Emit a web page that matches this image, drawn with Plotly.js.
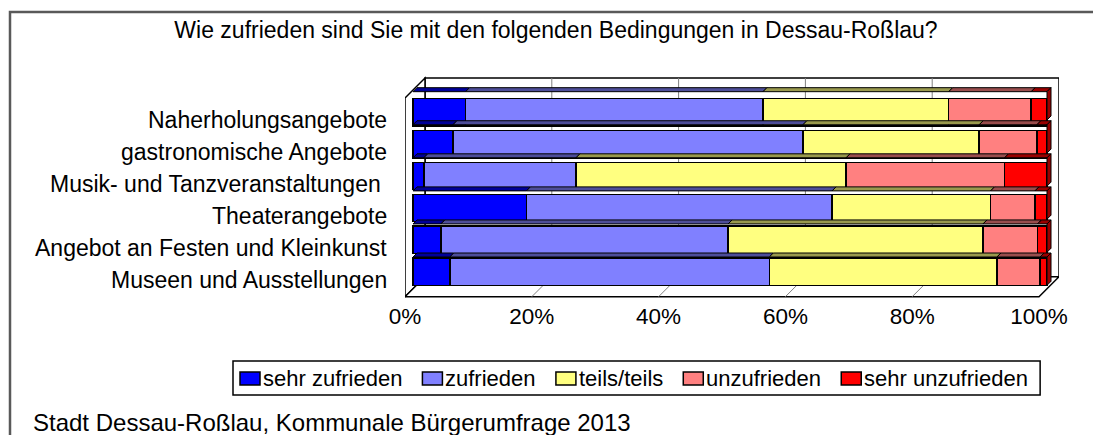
<!DOCTYPE html>
<html>
<head>
<meta charset="utf-8">
<script src="https://cdn.plot.ly/plotly-3.0.1.min.js"></script>
<style>
  html, body { margin: 0; padding: 0; background: #fff; }
  #chart { width: 1093px; height: 435px; }
</style>
</head>
<body>
<div id="chart"></div>
<script>
// Survey answers per leisure offer, shares in percent (top row first)
const categories = [
  'Naherholungsangebote',
  'gastronomische Angebote',
  'Musik- und Tanzveranstaltungen ',
  'Theaterangebote',
  'Angebot an Festen und Kleinkunst',
  'Museen und Ausstellungen'
];
const seriesNames = ['sehr zufrieden', 'zufrieden', 'teils/teils', 'unzufrieden', 'sehr unzufrieden'];
const sehrZufrieden   = [8.3, 6.3, 1.7, 17.9, 4.4, 5.8];
const zufrieden       = [46.9, 55.2, 24.0, 48.2, 45.3, 50.4];
const teilsTeils      = [29.3, 27.8, 42.6, 25.0, 40.2, 35.9];
const unzufrieden     = [13.0, 9.1, 25.0, 7.0, 8.6, 6.8];
const sehrUnzufrieden = [2.5, 1.6, 6.7, 1.9, 1.5, 1.1];
const tickValues = [0, 20, 40, 60, 80, 100];
const tickLabels = ['0%', '20%', '40%', '60%', '80%', '100%'];
const titleText = 'Wie zufrieden sind Sie mit den folgenden Bedingungen in Dessau-Roßlau?';
const sourceText = 'Stadt Dessau-Roßlau, Kommunale Bürgerumfrage 2013';

const seriesValues = [sehrZufrieden, zufrieden, teilsTeils, unzufrieden, sehrUnzufrieden];
const faceColors = ['#0000ff', '#8080ff', '#ffff80', '#ff8080', '#ff0000'];
const topColors  = ['#000099', '#4d4d99', '#99994d', '#994d4d', '#990000'];

// ---- layout geometry (pixels) ----
const W = 1093, H = 435;
const FONT = '"Liberation Sans", Arial, sans-serif';
const PX_PER_UNIT = 6.34;          // pixels per percent on the value axis
const FLOOR_LEFT = 405;            // front edge of the floor at 0 %
const FLOOR_FRONT_Y = 296.7;
const DEPTH = 20;                  // depth of the 3-D box (same in x and y)
const BAR_OFFSET = 8;              // bars sit this far behind the front edge
const BAR_THICK = 4;               // visible depth of each bar
const BACK_TOP = 78;
const LEFT_WALL_TOP = 98;
const BAND_TOP = 89.3, BAND_BOTTOM = 287.7;
const BARGAP = 0.144;

const py = p => 1 - p / H;
const ux = px => px / PX_PER_UNIT;
const frontX = v => v - ux(BAR_OFFSET);
const backX = v => v + ux(DEPTH - BAR_OFFSET);
const BACK_BOTTOM = FLOOR_FRONT_Y - DEPTH;

const xDomain = [FLOOR_LEFT / W, (FLOOR_LEFT + 100 * PX_PER_UNIT + DEPTH) / W];
const xRange = [-ux(BAR_OFFSET), 100 + ux(DEPTH - BAR_OFFSET)];

// ---- bar traces ----
const traces = seriesNames.map((name, k) => ({
  type: 'bar',
  orientation: 'h',
  name: name,
  y: categories,
  x: seriesValues[k],
  marker: { color: faceColors[k], line: { color: '#000000', width: 1.5 } },
  showlegend: false,
  hoverinfo: 'x+y+name'
}));

// ---- 3-D box: back wall, left wall, floor ----
const shapes = [];
const wallLine = { color: '#000000', width: 1.5 };
shapes.push({
  type: 'path', layer: 'below', xref: 'x', yref: 'paper',
  path: `M${backX(0)},${py(BACK_TOP)} L${backX(100)},${py(BACK_TOP)} L${backX(100)},${py(BACK_BOTTOM)} L${backX(0)},${py(BACK_BOTTOM)} Z`,
  fillcolor: '#ffffff', line: wallLine
});
shapes.push({
  type: 'path', layer: 'below', xref: 'x', yref: 'paper',
  path: `M${frontX(0)},${py(LEFT_WALL_TOP)} L${backX(0)},${py(BACK_TOP)} L${backX(0)},${py(BACK_BOTTOM)} L${frontX(0)},${py(FLOOR_FRONT_Y)} Z`,
  fillcolor: '#ffffff', line: wallLine
});
shapes.push({
  type: 'path', layer: 'below', xref: 'x', yref: 'paper',
  path: `M${frontX(0)},${py(FLOOR_FRONT_Y)} L${backX(0)},${py(BACK_BOTTOM)} L${backX(100)},${py(BACK_BOTTOM)} L${frontX(100)},${py(FLOOR_FRONT_Y)} Z`,
  fillcolor: '#ffffff', line: wallLine
});
// gridlines on the back wall and across the floor
tickValues.slice(1, -1).forEach(t => {
  shapes.push({
    type: 'line', layer: 'below', xref: 'x', yref: 'paper',
    x0: backX(t), x1: backX(t), y0: py(BACK_TOP), y1: py(BACK_BOTTOM),
    line: { color: '#808080', width: 1 }
  });
  shapes.push({
    type: 'line', layer: 'below', xref: 'x', yref: 'paper',
    x0: backX(t), x1: frontX(t), y0: py(BACK_BOTTOM), y1: py(FLOOR_FRONT_Y),
    line: { color: '#808080', width: 1 }
  });
});

// ---- bar tops and end caps ----
const bandH = (BAND_BOTTOM - BAND_TOP) / categories.length;
const barH = bandH * (1 - BARGAP);
categories.forEach((cat, i) => {
  const top = BAND_TOP + i * bandH + (bandH - barH) / 2;
  const bottom = top + barH;
  let start = 0;
  seriesValues.forEach((vals, k) => {
    const end = start + vals[i];
    shapes.push({
      type: 'path', layer: 'above', xref: 'x', yref: 'paper',
      path: `M${start},${py(top)} L${end},${py(top)} L${end + ux(BAR_THICK)},${py(top - BAR_THICK)} L${start + ux(BAR_THICK)},${py(top - BAR_THICK)} Z`,
      fillcolor: topColors[k], line: { color: '#000000', width: 1 }
    });
    start = end;
  });
  const last = seriesValues.length - 1;
  shapes.push({
    type: 'path', layer: 'above', xref: 'x', yref: 'paper',
    path: `M${start},${py(top)} L${start + ux(BAR_THICK)},${py(top - BAR_THICK)} L${start + ux(BAR_THICK)},${py(bottom - BAR_THICK)} L${start},${py(bottom)} Z`,
    fillcolor: topColors[last], line: { color: '#000000', width: 1 }
  });
});

// ---- outer frame ----
shapes.push({
  type: 'path', layer: 'above', xref: 'paper', yref: 'paper',
  path: `M${10 / W},${py(H + 10)} L${10 / W},${py(12)} L${(W + 10) / W},${py(12)}`,
  line: { color: '#595959', width: 2.5 }
});

// ---- annotations: category labels, source ----
const annotations = categories.map(cat => ({
  xref: 'paper', yref: 'y', x: 389 / W, y: cat, xanchor: 'right', yanchor: 'middle',
  yshift: -8, text: cat, showarrow: false,
  font: { family: FONT, size: 23, color: '#000000' }
}));
annotations.push({
  xref: 'paper', yref: 'paper', x: 31 / W, y: py(422.5), xanchor: 'left', yanchor: 'middle',
  text: sourceText, showarrow: false,
  font: { family: FONT, size: 24, color: '#000000' }
});

// ---- legend row, laid out from measured text widths ----
const LEGEND_FONT_SIZE = 22;
const ctx = document.createElement('canvas').getContext('2d');
ctx.font = `${LEGEND_FONT_SIZE}px "Liberation Sans"`;
const LEG_LEFT = 233, LEG_TOP = 361, LEG_BOTTOM = 395;
const SW_W = 20, SW_H = 13, SW_TEXT_GAP = 3, ITEM_GAP = 20;
const legMid = (LEG_TOP + LEG_BOTTOM) / 2;
let cursor = LEG_LEFT + 7;
seriesNames.forEach((name, k) => {
  shapes.push({
    type: 'rect', layer: 'above', xref: 'paper', yref: 'paper',
    x0: cursor / W, x1: (cursor + SW_W) / W,
    y0: py(legMid - SW_H / 2 + 0.5), y1: py(legMid + SW_H / 2 + 0.5),
    fillcolor: faceColors[k], line: { color: '#000000', width: 1.5 }
  });
  cursor += SW_W + SW_TEXT_GAP;
  annotations.push({
    xref: 'paper', yref: 'paper', x: (cursor - 2) / W, y: py(legMid), xanchor: 'left', yanchor: 'middle',
    text: name, showarrow: false,
    font: { family: FONT, size: LEGEND_FONT_SIZE, color: '#000000' }
  });
  cursor += ctx.measureText(name).width;
  if (k < seriesNames.length - 1) cursor += ITEM_GAP;
});
shapes.push({
  type: 'rect', layer: 'above', xref: 'paper', yref: 'paper',
  x0: LEG_LEFT / W, x1: (cursor + 12) / W, y0: py(LEG_BOTTOM), y1: py(LEG_TOP),
  line: { color: '#000000', width: 1.5 }
});

const layout = {
  width: W, height: H,
  margin: { l: 0, r: 0, t: 0, b: 0 },
  paper_bgcolor: '#ffffff', plot_bgcolor: 'rgba(0,0,0,0)',
  barmode: 'stack', bargap: BARGAP,
  showlegend: false,
  title: {
    text: titleText, xref: 'paper', yref: 'paper', x: 556 / W, y: py(30),
    xanchor: 'center', yanchor: 'middle',
    font: { family: FONT, size: 23, color: '#000000' }
  },
  xaxis: {
    domain: xDomain, range: xRange,
    tickvals: tickValues, ticktext: tickLabels,
    showgrid: false, zeroline: false, showline: false, ticks: '',
    ticklabelshift: -BAR_OFFSET, ticklabelstandoff: 13,
    tickfont: { family: FONT, size: 22.5, color: '#000000' },
    fixedrange: true
  },
  yaxis: {
    domain: [py(BAND_BOTTOM), py(BAND_TOP)],
    type: 'category', categoryarray: categories, categoryorder: 'array',
    autorange: 'reversed',
    showticklabels: false, showgrid: false, zeroline: false, showline: false, ticks: '',
    fixedrange: true
  },
  shapes: shapes,
  annotations: annotations
};

Plotly.newPlot('chart', traces, layout, { displayModeBar: false, staticPlot: true });
</script>
</body>
</html>
